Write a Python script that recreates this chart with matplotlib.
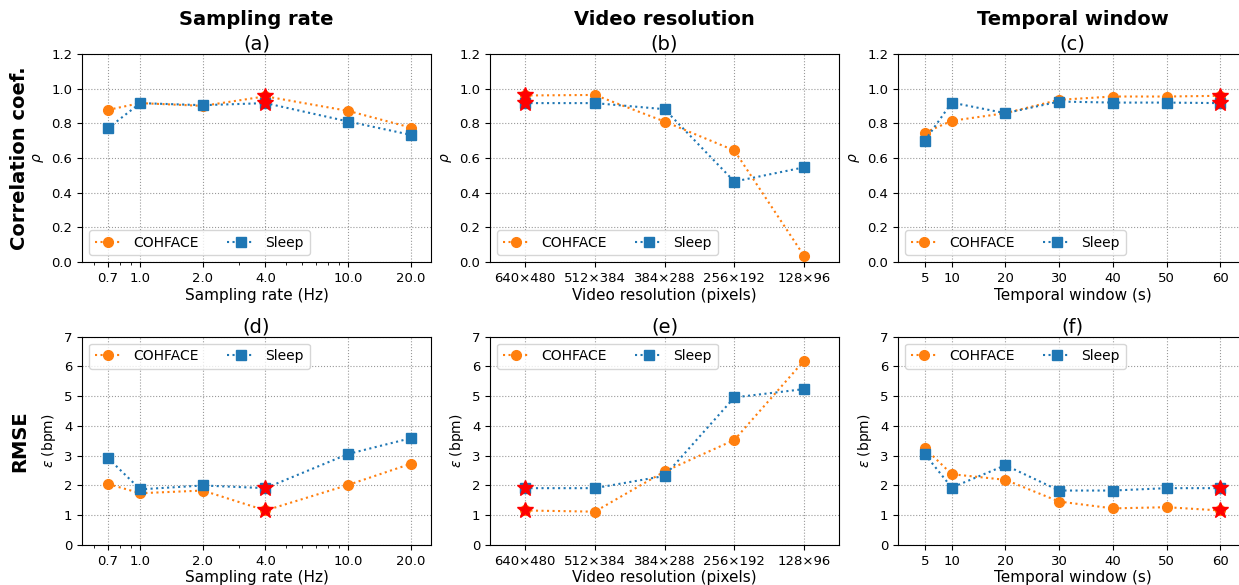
import numpy as np
import matplotlib.pyplot as plt

# Parameters explored
sampling_rates = [0.7, 1.0, 2.0, 4.0, 10.0, 20.0]
resolutions = ["640×480", "512×384", "384×288", "256×192", "128×96"]
windows = [5, 10, 20, 30, 40, 50, 60]

# Correlation coefficient (rho)
rho_cohface_rate = [0.877, 0.916, 0.900, 0.955, 0.871, 0.775]
rho_sleep_rate = [0.771, 0.916, 0.904, 0.916, 0.810, 0.733]
rho_cohface_res = [0.960, 0.963, 0.810, 0.643, 0.035]
rho_sleep_res = [0.916, 0.916, 0.881, 0.464, 0.546]
rho_cohface_win = [0.746, 0.814, 0.858, 0.935, 0.954, 0.954, 0.958]
rho_sleep_win = [0.700, 0.919, 0.858, 0.925, 0.919, 0.919, 0.916]

# RMSE (bpm)
rmse_cohface_rate = [2.05, 1.74, 1.83, 1.16, 2.02, 2.73]
rmse_sleep_rate = [2.92, 1.87, 2.00, 1.91, 3.06, 3.59]
rmse_cohface_res = [1.16, 1.12, 2.47, 3.53, 6.20]
rmse_sleep_res = [1.91, 1.91, 2.32, 4.96, 5.24]
rmse_cohface_win = [3.25, 2.38, 2.19, 1.46, 1.23, 1.27, 1.16]
rmse_sleep_win = [3.05, 1.93, 2.68, 1.83, 1.83, 1.91, 1.91]

# Best configuration per column (index)
best_rate, best_res, best_win = 3, 0, 6

orange = "#ff7f0e"
blue = "#1f77b4"

fig = plt.figure(figsize=(12.39, 5.85), dpi=100)
lefts = [0.0662, 0.3955, 0.7248]
w = 0.2817
bottoms = [0.552, 0.0684]
h = 0.356
axes = [[fig.add_axes([l, b, w, h]) for l in lefts] for b in bottoms]

res_x = np.arange(len(resolutions))
cols = [
    (sampling_rates, best_rate, "Sampling rate (Hz)", "Sampling rate"),
    (res_x, best_res, "Video resolution (pixels)", "Video resolution"),
    (windows, best_win, "Temporal window (s)", "Temporal window"),
]
rows = [
    [(rho_cohface_rate, rho_sleep_rate), (rho_cohface_res, rho_sleep_res), (rho_cohface_win, rho_sleep_win)],
    [(rmse_cohface_rate, rmse_sleep_rate), (rmse_cohface_res, rmse_sleep_res), (rmse_cohface_win, rmse_sleep_win)],
]
letters = [["(a)", "(b)", "(c)"], ["(d)", "(e)", "(f)"]]

for r in range(2):
    for c in range(3):
        ax = axes[r][c]
        x, best, xlabel, coltitle = cols[c]
        coh, slp = rows[r][c]
        ax.plot(x, coh, ":o", color=orange, markersize=7, label="COHFACE", zorder=3)
        ax.plot(x, slp, ":s", color=blue, markersize=7, label="Sleep", zorder=3)
        ax.plot(x[best], coh[best], "*", color="red", markersize=12, zorder=4)
        ax.plot(x[best], slp[best], "*", color="red", markersize=12, zorder=4)

        if c == 0:
            ax.set_xscale("log")
            ax.set_xticks(sampling_rates)
            ax.set_xticklabels([f"{v:.1f}" for v in sampling_rates])
            ax.set_xlim(0.525, 25)
        elif c == 1:
            ax.set_xticks(res_x)
            ax.set_xticklabels(resolutions)
            ax.set_xlim(-0.5, 4.5)
        else:
            ax.set_xticks(windows)
            ax.set_xlim(0, 65)

        if r == 0:
            ax.set_ylim(0, 1.2)
            ax.set_yticks(np.arange(0, 1.21, 0.2))
            ax.set_ylabel(r"$\rho$", fontsize=10)
            ax.legend(loc="lower left", ncol=2, fontsize=10)
            # column heading above the panel letter
            ax.text(0.5, 1.12, coltitle, transform=ax.transAxes, ha="center", va="bottom",
                    fontsize=14, fontweight="bold")
        else:
            ax.set_ylim(0, 7)
            ax.set_yticks(range(0, 8))
            ax.set_ylabel(r"$\varepsilon$ (bpm)", fontsize=10)
            ax.legend(loc="upper left", ncol=2, fontsize=10)
        ax.set_title(letters[r][c], fontsize=14, pad=3)

        ax.set_xlabel(xlabel, fontsize=11, labelpad=2)
        ax.tick_params(labelsize=9.5)
        ax.grid(True, linestyle=":", color="gray", alpha=0.8)

fig.text(0.016, 0.73, "Correlation coef.", rotation=90, fontsize=14, fontweight="bold", ha="center", va="center")
fig.text(0.016, 0.246, "RMSE", rotation=90, fontsize=14, fontweight="bold", ha="center", va="center")

plt.savefig("out.png", dpi=100)
